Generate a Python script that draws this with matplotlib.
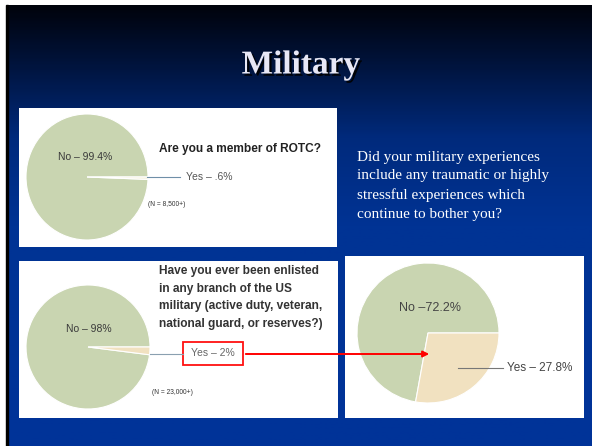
import numpy as np
import matplotlib
matplotlib.use("Agg")
import matplotlib.pyplot as plt
import matplotlib.patheffects as pe
from matplotlib.patches import Rectangle
from matplotlib.colors import LinearSegmentedColormap

# chart values
pie_labels = ["No", "Yes"]
rotc_values = [99.4, 0.6]
enlisted_values = [98, 2]
trauma_values = [72.2, 27.8]

rotc_text = ["No – 99.4%", "Yes – .6%"]
enlisted_text = ["No – 98%", "Yes – 2%"]
trauma_text = ["No –72.2%", "Yes – 27.8%"]

rotc_question = "Are you a member of ROTC?"
enlisted_question = ("Have you ever been enlisted\nin any branch of the US\n"
                     "military (active duty, veteran,\nnational guard, or reserves?)")
trauma_question = ("Did your military experiences\ninclude any traumatic or highly\n"
                   "stressful experiences which\ncontinue to bother you?")
rotc_n = "(N = 8,500+)"
enlisted_n = "(N = 23,000+)"

W, H = 592, 446
GREEN = "#c9d5b1"
CREAM = "#f1e1c0"

fig = plt.figure(figsize=(W / 100, H / 100), dpi=100)
fig.patch.set_facecolor("white")

# background slide
bg = fig.add_axes([0, 0, 1, 1])
bg.set_xlim(0, W)
bg.set_ylim(H, 0)
bg.axis("off")
cmap = LinearSegmentedColormap.from_list(
    "slide", [(0, "#00030c"), (0.12, "#001238"), (0.3, "#002a7c"), (0.5, "#003394"), (1, "#003399")])
grad = np.linspace(0, 1, 300).reshape(-1, 1)
bg.imshow(grad, cmap=cmap, extent=(8, W, H, 5), aspect="auto", zorder=0)
bg.add_patch(Rectangle((6, 5), 2.2, H, color="black", zorder=1))

# white panels
for (x0, y0, x1, y1) in [(19, 108, 337, 247), (19, 261, 338, 418), (345, 256, 584, 418)]:
    bg.add_patch(Rectangle((x0, y0), x1 - x0, y1 - y0, facecolor="white", edgecolor="none", zorder=2))


def pie_axes(cx, cy, rx, ry):
    ax = fig.add_axes([(cx - rx) / W, 1 - (cy + ry) / H, 2 * rx / W, 2 * ry / H])
    return ax


def draw_pie(ax, values, colors):
    ax.pie(values, colors=colors, startangle=0, counterclock=True,
           wedgeprops=dict(edgecolor="white", linewidth=0.8))
    ax.set_aspect("auto")
    ax.set_xlim(-1, 1)
    ax.set_ylim(-1, 1)
    ax.axis("off")


draw_pie(pie_axes(87, 177, 61, 63), rotc_values, [GREEN, "#f5f0da"])
draw_pie(pie_axes(88, 347, 62, 62), enlisted_values, [GREEN, CREAM])
draw_pie(pie_axes(428, 333, 71, 70), trauma_values, [GREEN, CREAM])

# overlay for text and annotations
top = fig.add_axes([0, 0, 1, 1])
top.set_xlim(0, W)
top.set_ylim(H, 0)
top.axis("off")
top.patch.set_visible(False)

sans = "Liberation Sans"
serif = "Liberation Serif"

# title with drop shadow
top.text(301, 65, "Military", ha="center", va="center", fontsize=24, fontweight="bold",
         family=serif, color="#e8e8f6",
         path_effects=[pe.withSimplePatchShadow(offset=(1.6, -1.6), shadow_rgbFace="black", alpha=0.9)])

# ROTC panel
top.text(85.5, 157, rotc_text[0], ha="center", va="center", fontsize=7.5, family=sans, color="#3a3a3a")
top.plot([147, 180], [176.5, 176.5], color="#6f8fa8", lw=0.8)
top.text(186, 176.5, rotc_text[1], ha="left", va="center", fontsize=7.5, family=sans, color="#555555")
top.text(159, 149, rotc_question, ha="left", va="center", fontsize=8.6, fontweight="bold",
         family=sans, color="#222222")
top.text(148, 204, rotc_n, ha="left", va="center", fontsize=4.8, family=sans, color="#333333")

# enlisted panel
top.text(88.5, 329, enlisted_text[0], ha="center", va="center", fontsize=7.5, family=sans, color="#3a3a3a")
top.plot([150, 183], [353.5, 353.5], color="#8aa0b0", lw=0.8)
top.add_patch(Rectangle((183, 342), 60, 23, facecolor="none", edgecolor="#ff1010", lw=1.3))
top.text(213, 353.5, enlisted_text[1], ha="center", va="center", fontsize=7.5, family=sans, color="#666666")
top.text(159, 265, enlisted_question, ha="left", va="top", fontsize=8.6, fontweight="bold",
         family=sans, color="#333333", linespacing=1.62)
top.text(152, 392, enlisted_n, ha="left", va="center", fontsize=4.8, family=sans, color="#333333")

# arrow from "Yes" box to the trauma pie
top.annotate("", xy=(432, 354), xytext=(243, 354),
             arrowprops=dict(arrowstyle="-|>", color="#ff0000", lw=1.4, mutation_scale=9))

# trauma panel
top.text(430, 308, trauma_text[0], ha="center", va="center", fontsize=9, family=sans, color="#444444")
top.plot([458, 503], [368, 368], color="#777777", lw=0.8)
top.text(507, 368, trauma_text[1], ha="left", va="center", fontsize=8.5, family=sans, color="#444444")
top.text(357, 151, trauma_question, ha="left", va="top", fontsize=11, family=serif,
         color="white", linespacing=1.55)

fig.savefig("out.png", dpi=100)
